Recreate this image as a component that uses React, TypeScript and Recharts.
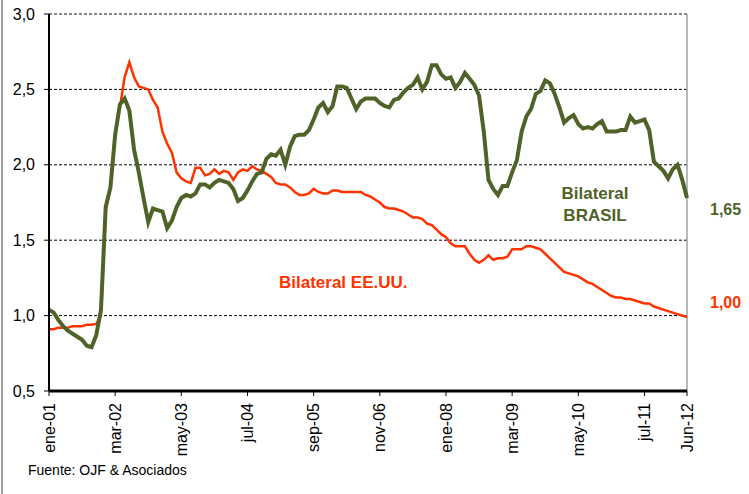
import { CartesianGrid, Line, LineChart, ReferenceLine, XAxis, YAxis } from "recharts";

// tipo de cambio bilateral, mensual desde ene-01
const BRASIL = [
  1.04, 1.02, 0.97, 0.93, 0.9, 0.88, 0.86, 0.84, 0.8, 0.79,
  0.87, 1.04, 1.72, 1.85, 2.2, 2.4, 2.44, 2.36, 2.1, 1.95,
  1.78, 1.62, 1.71, 1.7, 1.69, 1.58, 1.63, 1.72, 1.78, 1.8,
  1.79, 1.81, 1.87, 1.87, 1.85, 1.88, 1.9, 1.89, 1.88, 1.84,
  1.76, 1.78, 1.83, 1.89, 1.94, 1.95, 2.04, 2.07, 2.06, 2.1,
  2.0, 2.12, 2.19, 2.2, 2.2, 2.23, 2.3, 2.38, 2.41, 2.35,
  2.39, 2.52, 2.52, 2.51, 2.44, 2.37, 2.42, 2.44, 2.44, 2.44,
  2.41, 2.39, 2.38, 2.43, 2.44, 2.48, 2.51, 2.53, 2.58, 2.5,
  2.55, 2.66, 2.66, 2.6, 2.57, 2.58, 2.51, 2.55, 2.61, 2.57,
  2.53, 2.46, 2.22, 1.9, 1.84, 1.8, 1.86, 1.86, 1.95, 2.03,
  2.22, 2.32, 2.37, 2.47, 2.49, 2.56, 2.54, 2.47, 2.38, 2.28,
  2.31, 2.33, 2.27, 2.24, 2.25, 2.24, 2.27, 2.29, 2.22, 2.22,
  2.22, 2.23, 2.23, 2.32, 2.28, 2.29, 2.3, 2.23, 2.02, 1.99,
  1.96, 1.91, 1.97, 2.0, 1.9, 1.78,
];

const EEUU = [
  0.91, 0.91, 0.92, 0.92, 0.92, 0.93, 0.93, 0.93, 0.94, 0.94,
  0.945, 1.0, 1.7, 1.85, 2.2, 2.38, 2.58, 2.68, 2.58, 2.52,
  2.51, 2.5, 2.43, 2.38, 2.22, 2.14, 2.08, 1.95, 1.91, 1.89,
  1.88, 1.98, 1.98, 1.93, 1.94, 1.97, 1.94, 1.96, 1.95, 1.9,
  1.95, 1.97, 1.96, 1.99, 1.97, 1.96, 1.94, 1.92, 1.88, 1.87,
  1.87, 1.85, 1.82, 1.8, 1.8, 1.81, 1.84, 1.82, 1.81, 1.81,
  1.83, 1.83, 1.82, 1.82, 1.82, 1.82, 1.82, 1.8, 1.79, 1.77,
  1.75, 1.72, 1.71, 1.71, 1.7, 1.69, 1.67, 1.65, 1.65, 1.64,
  1.61, 1.6, 1.57, 1.54, 1.52, 1.48, 1.46, 1.46, 1.46, 1.41,
  1.37, 1.35, 1.37, 1.4, 1.37, 1.38, 1.38, 1.39, 1.44, 1.44,
  1.44, 1.46, 1.46, 1.45, 1.44, 1.41, 1.38, 1.35, 1.32, 1.29,
  1.28, 1.27, 1.26, 1.24, 1.22, 1.21, 1.19, 1.17, 1.15, 1.13,
  1.12, 1.12, 1.11, 1.11, 1.1, 1.09, 1.08, 1.08, 1.06, 1.05,
  1.04, 1.03, 1.02, 1.01, 1.0, 0.99,
];

const TICK_IDX = [0, 14, 28, 42, 56, 70, 84, 98, 112, 126, 135];
const TICK_LABELS = [
  "ene-01", "mar-02", "may-03", "jul-04", "sep-05", "nov-06",
  "ene-08", "mar-09", "may-10", "jul-11", "Jun-12",
];
const Y_TICKS = [0.5, 1, 1.5, 2, 2.5, 3];

const GREEN = "#4F6228";
const RED = "#FF3300";
const FONT = "Arial, 'Liberation Sans', sans-serif";

const data = BRASIL.map((b, i) => ({ idx: i, brasil: b, eeuu: EEUU[i] }));

const XTick = ({ x, y, payload }: any) => {
  const label = TICK_LABELS[TICK_IDX.indexOf(payload.value)] ?? "";
  return (
    <text
      x={x}
      y={y}
      transform={`rotate(-90, ${x}, ${y})`}
      textAnchor="end"
      dy="0.35em"
      fontSize={16}
      fill="#000"
      fontFamily={FONT}
    >
      {label}
    </text>
  );
};

export default function App() {
  return (
    <div
      style={{
        position: "absolute",
        left: 0,
        top: 0,
        width: 749,
        height: 494,
        background: "#fff",
        fontFamily: FONT,
      }}
    >
      <div style={{ position: "absolute", left: 1, top: 0, width: 2, height: 494, background: "#a0a0a0" }} />
      <LineChart
        width={749}
        height={494}
        data={data}
        margin={{ top: 14, right: 62, bottom: 0, left: 0 }}
      >
        <CartesianGrid vertical={false} stroke="#000" strokeDasharray="3 2" />
        <XAxis
          type="number"
          dataKey="idx"
          domain={[0, 135]}
          ticks={TICK_IDX}
          interval={0}
          height={103}
          tick={<XTick />}
          tickSize={5}
          tickMargin={7}
          tickLine={{ stroke: "#000" }}
          axisLine={{ stroke: "#000", strokeWidth: 3 }}
        />
        <YAxis
          domain={[0.5, 3]}
          ticks={Y_TICKS}
          width={49}
          tickSize={5}
          tickMargin={9}
          tickFormatter={(v: number) => v.toFixed(1).replace(".", ",")}
          tick={{ fill: "#000", fontSize: 16, fontFamily: FONT }}
          tickLine={{ stroke: "#000" }}
          axisLine={{ stroke: "#000", strokeWidth: 2 }}
        />
        <ReferenceLine y={3} stroke="#8c8c8c" strokeDasharray="3 2" strokeWidth={1.5} />
        <ReferenceLine x={135} stroke="#a0a0a0" strokeWidth={1.5} />
        <Line
          type="linear"
          dataKey="eeuu"
          stroke={RED}
          strokeWidth={2.5}
          dot={false}
          isAnimationActive={false}
        />
        <Line
          type="linear"
          dataKey="brasil"
          stroke={GREEN}
          strokeWidth={4}
          dot={false}
          isAnimationActive={false}
        />
      </LineChart>
      <svg
        width={749}
        height={494}
        style={{ position: "absolute", left: 0, top: 0, pointerEvents: "none" }}
        fontFamily={FONT}
      >
        <text x={279} y={282} dy="0.35em" fontSize={17} fontWeight="bold" fill={RED}>
          Bilateral EE.UU.
        </text>
        <text x={595} y={193} dy="0.35em" fontSize={17} fontWeight="bold" fill={GREEN} textAnchor="middle">
          Bilateral
        </text>
        <text x={595} y={215} dy="0.35em" fontSize={17} fontWeight="bold" fill={GREEN} textAnchor="middle">
          BRASIL
        </text>
        <text x={710} y={209} dy="0.35em" fontSize={16} fontWeight="bold" fill={GREEN}>
          1,65
        </text>
        <text x={710} y={302} dy="0.35em" fontSize={16} fontWeight="bold" fill={RED}>
          1,00
        </text>
        <text x={28} y={470} dy="0.35em" fontSize={14} fill="#000">
          Fuente: OJF &amp; Asociados
        </text>
      </svg>
    </div>
  );
}
